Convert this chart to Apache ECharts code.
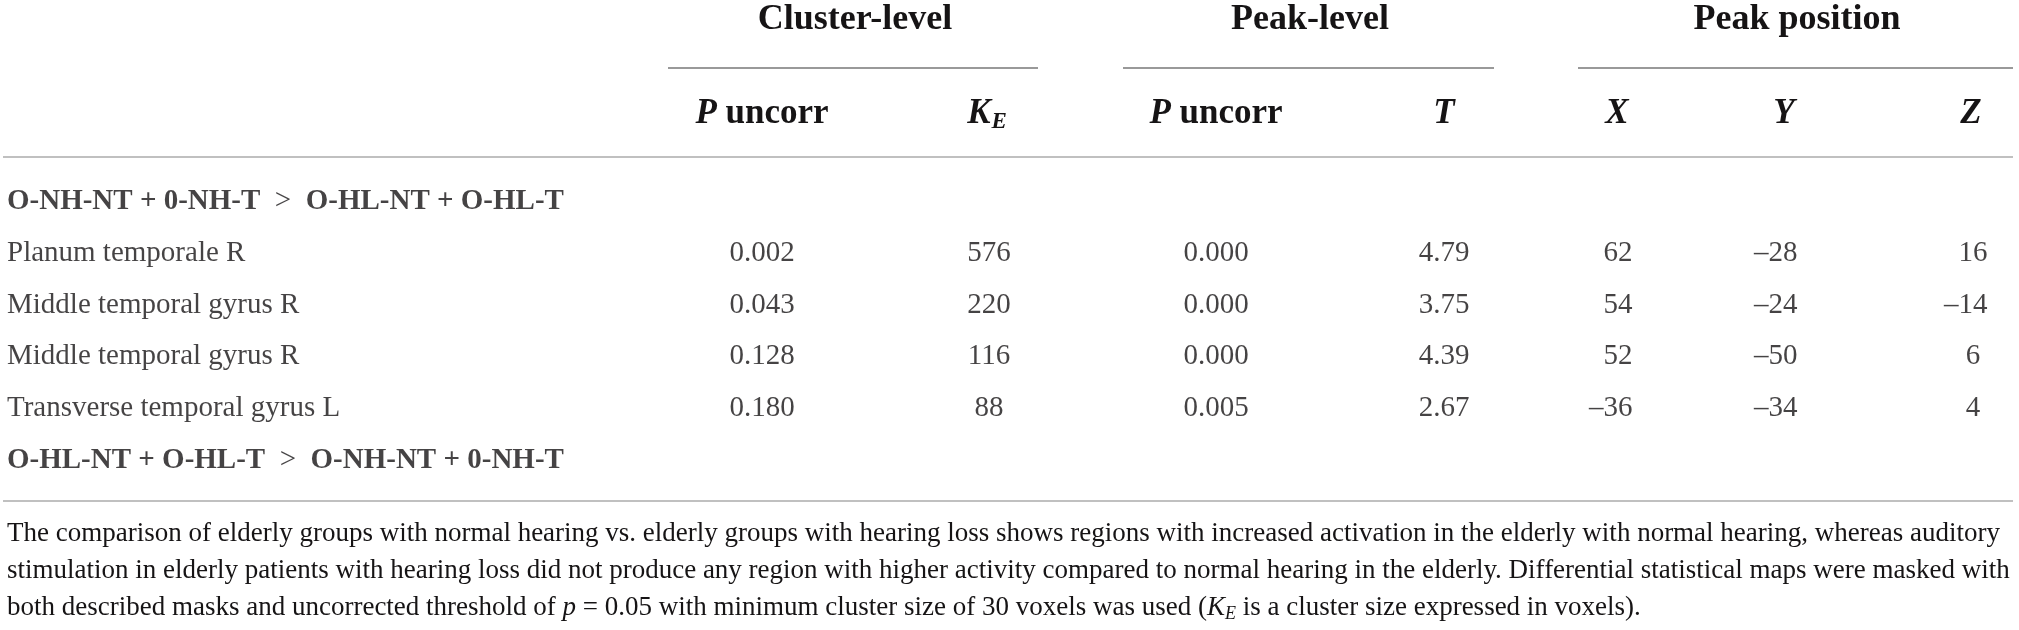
<!DOCTYPE html>
<html>
<head>
<meta charset="utf-8">
<script src="https://cdn.jsdelivr.net/npm/echarts@6/dist/echarts.min.js"></script>
<style>
  html, body { margin: 0; padding: 0; background: #ffffff; }
  #main { width: 2019px; height: 630px; }
</style>
</head>
<body>
<div id="main"></div>
<script>
// table data
var regions = ['Planum temporale R', 'Middle temporal gyrus R', 'Middle temporal gyrus R', 'Transverse temporal gyrus L'];
var clusterP = ['0.002', '0.043', '0.128', '0.180'];
var clusterKE = [576, 220, 116, 88];
var peakP = ['0.000', '0.000', '0.000', '0.005'];
var peakT = ['4.79', '3.75', '4.39', '2.67'];
var peakX = [62, 54, 52, -36];
var peakY = [-28, -24, -50, -34];
var peakZ = [16, -14, 6, 4];
var groupLabels = [
	['O-NH-NT + 0-NH-T', 'O-HL-NT + O-HL-T'],
	['O-HL-NT + O-HL-T', 'O-NH-NT + 0-NH-T']
];
var footLines = [
	'The comparison of elderly groups with normal hearing vs. elderly groups with hearing loss shows regions with increased activation in the elderly with normal hearing, whereas auditory',
	'stimulation in elderly patients with hearing loss did not produce any region with higher activity compared to normal hearing in the elderly. Differential statistical maps were masked with',
	['both described masks and uncorrected threshold of ', 'p', ' = 0.05 with minimum cluster size of 30 voxels was used (', 'K', 'E', ' is a cluster size expressed in voxels).']
];

// layout
var FONT = '"Liberation Serif", "DejaVu Serif", serif';
var INK = '#161415';
var BODY = 29;
var colX = [7, 762, 989, 1216, 1444, 1618, 1783, 1973];
var rowKeys = ['g0', 'r0', 'r1', 'r2', 'r3', 'g1'];

var columns = [clusterP, clusterKE, peakP, peakT, peakX, peakY, peakZ];

var series = [];
// region names (left aligned)
series.push({
	type: 'scatter',
	symbolSize: 0,
	data: regions.map(function(r, i) { return { value: [colX[0], i + 1], name: r }; }),
	label: {
		show: true, position: 'inside', align: 'left', verticalAlign: 'middle',
		formatter: function(p) { return p.name; },
		fontFamily: FONT, fontSize: BODY, color: INK
	}
});
// group headings
series.push({
	type: 'scatter',
	symbolSize: 0,
	data: groupLabels.map(function(g, i) { return { value: [colX[0], i == 0 ? 0 : 5], name: g[0] + '|' + g[1] }; }),
	label: {
		show: true, position: 'inside', align: 'left', verticalAlign: 'middle',
		formatter: function(p) {
			var parts = p.name.split('|');
			return '{b|' + parts[0] + '}{n|  >  }{b|' + parts[1] + '}';
		},
		rich: {
			b: { fontFamily: FONT, fontSize: BODY, fontWeight: 'bold', color: INK },
			n: { fontFamily: FONT, fontSize: BODY, color: INK }
		}
	}
});
// numeric columns, digits centred and the minus hanging left
columns.forEach(function(col, c) {
	series.push({
		type: 'scatter',
		symbolSize: 0,
		data: col.map(function(v, i) {
			var neg = typeof v == 'number' && v < 0;
			return {
				value: [colX[c + 1], i + 1],
				name: neg ? '\u2013' + String(-v) : String(v),
				label: { offset: [neg ? -BODY * 0.25 : 0, 0] }
			};
		}),
		label: {
			show: true, position: 'inside', align: 'center', verticalAlign: 'middle',
			formatter: function(p) { return p.name; },
			fontFamily: FONT, fontSize: BODY, color: INK
		}
	});
});

function txt(x, y, text, align, rich, font) {
	return {
		type: 'text', x: x, y: y,
		style: { text: text, align: align, verticalAlign: 'middle', fill: INK, font: font || (BODY + 'px ' + FONT), rich: rich }
	};
}
function rule(x1, x2, y, color, w) {
	return { type: 'line', shape: { x1: x1, y1: y, x2: x2, y2: y }, style: { stroke: color, lineWidth: w } };
}

var headRich = {
	bi: { fontFamily: FONT, fontSize: 35, fontWeight: 'bold', fontStyle: 'italic', fill: INK },
	b: { fontFamily: FONT, fontSize: 35, fontWeight: 'bold', fill: INK },
	sub: { fontFamily: FONT, fontSize: 23, fontWeight: 'bold', fontStyle: 'italic', fill: INK, padding: [17, 0, 0, 1] }
};
var footRich = {
	i: { fontFamily: FONT, fontSize: 27, fontStyle: 'italic', fill: INK },
	n: { fontFamily: FONT, fontSize: 27, fill: INK },
	sub: { fontFamily: FONT, fontSize: 18, fontStyle: 'italic', fill: INK, padding: [13, 0, 0, 0] }
};

var graphics = [
	txt(855, 20, 'Cluster-level', 'center', null, 'bold 36px ' + FONT),
	txt(1310, 20, 'Peak-level', 'center', null, 'bold 36px ' + FONT),
	txt(1797, 20, 'Peak position', 'center', null, 'bold 36px ' + FONT),
	rule(668, 1038, 68, '#777777', 1.5),
	rule(1123, 1494, 68, '#777777', 1.5),
	rule(1578, 2013, 68, '#777777', 1.5),
	txt(colX[1], 114, '{bi|P}{b| uncorr}', 'center', headRich),
	txt(colX[2] - 2, 114, '{bi|K}{sub|E}', 'center', headRich),
	txt(colX[3], 114, '{bi|P}{b| uncorr}', 'center', headRich),
	txt(colX[4], 114, '{bi|T}', 'center', headRich),
	txt(1617, 114, '{bi|X}', 'center', headRich),
	txt(1784, 114, '{bi|Y}', 'center', headRich),
	txt(1971, 114, '{bi|Z}', 'center', headRich),
	rule(3, 2013, 157, '#c0c0c0', 2),
	rule(3, 2013, 501, '#c0c0c0', 2),
	txt(7, 534, '{n|' + footLines[0] + '}', 'left', footRich),
	txt(7, 571, '{n|' + footLines[1] + '}', 'left', footRich),
	txt(7, 608, '{n|' + footLines[2][0] + '}{i|' + footLines[2][1] + '}{n|' + footLines[2][2] + '}{i|' + footLines[2][3] + '}{sub|' + footLines[2][4] + '}{n|' + footLines[2][5] + '}', 'left', footRich)
];

var myChart = echarts.init(document.getElementById('main'));
var option = {
	animation: false,
	backgroundColor: '#ffffff',
	grid: { left: 0, right: 0, top: 176, bottom: 144 },
	xAxis: { type: 'value', min: 0, max: 2019, show: false },
	yAxis: { type: 'category', data: rowKeys, inverse: true, show: false },
	series: series,
	graphic: graphics
};
myChart.setOption(option);
</script>
</body>
</html>
